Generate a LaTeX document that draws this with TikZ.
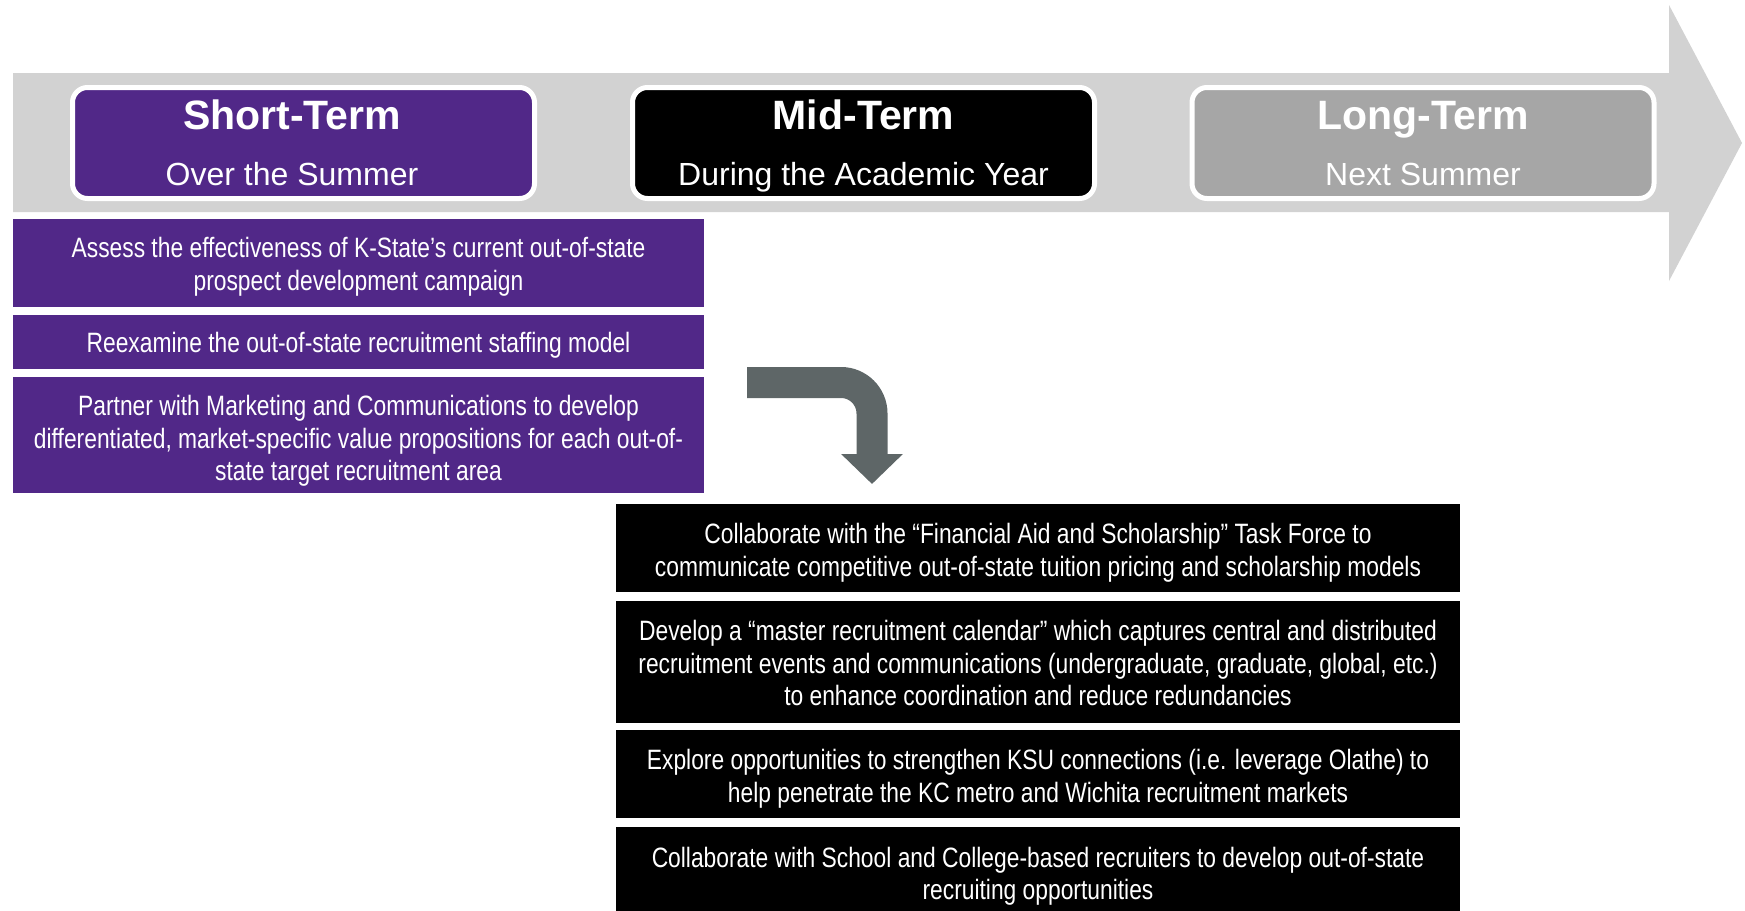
\documentclass[tikz,border=0pt]{standalone}
\usepackage{fontspec}
\setmainfont{Liberation Sans}
\newfontfamily\narrowfont[FakeStretch=0.815]{Liberation Sans}
\usetikzlibrary{arrows.meta}

\definecolor{kspurple}{HTML}{512888}
\definecolor{bandgray}{HTML}{D2D2D2}
\definecolor{longgray}{HTML}{A6A6A6}
\definecolor{bendgray}{HTML}{5E6667}

\tikzset{
    phase/.style={rectangle, draw=white, line width=5pt, rounded corners=15pt, minimum width=462pt, minimum height=111pt},
    phasetitle/.style={anchor=base, text=white, font=\bfseries\fontsize{41}{41}\selectfont},
    phasesub/.style={anchor=base, text=white, font=\fontsize{32}{32}\selectfont},
    shortbox/.style={rectangle, fill=kspurple, minimum width=691pt, inner sep=0pt},
    midbox/.style={rectangle, fill=black, minimum width=844pt, inner sep=0pt},
    actiontext/.style={inner sep=0pt, text=white, align=center, font=\narrowfont\fontsize{28}{32.5}\selectfont}
}

\begin{document}
\begin{tikzpicture}[x=1pt, y=-1pt]
    \useasboundingbox (0, 0) rectangle (1745, 910);

    % timeline band
    \fill[bandgray] (13, 73) -- (1669, 73) -- (1669, 5) -- (1742, 143) -- (1669, 281) -- (1669, 212) -- (13, 212) -- cycle;

    \node (short) [phase, fill=kspurple] at (303.5, 143) {};
    \node (mid) [phase, fill=black] at (863.5, 143) {};
    \node (long) [phase, fill=longgray] at (1423, 143) {};

    \node (shorttitle) [phasetitle] at (292, 129) {Short-Term};
    \node (shortsub) [phasesub] at (292, 185) {Over the Summer};
    \node (midtitle) [phasetitle] at (863.5, 129) {Mid-Term};
    \node (midsub) [phasesub] at (863.5, 185) {During the Academic Year};
    \node (longtitle) [phasetitle] at (1423, 129) {Long-Term};
    \node (longsub) [phasesub] at (1423, 185) {Next Summer};

    % short-term actions
    \node (assess) [shortbox, minimum height=88pt] at (358.5, 263) {};
    \node (staffing) [shortbox, minimum height=54pt] at (358.5, 342) {};
    \node (partner) [shortbox, minimum height=116pt] at (358.5, 435) {};
    \node (assesstext) [actiontext] at (358.5, 267) {Assess the effectiveness of K-State’s current out-of-state\\prospect development campaign};
    \node (staffingtext) [actiontext] at (358.5, 345.5) {Reexamine the out-of-state recruitment staffing model};
    \node (partnertext) [actiontext] at (358.5, 441) {Partner with Marketing and Communications to develop\\differentiated, market-specific value propositions for each out-of-\\state target recruitment area};

    % mid-term actions
    \node (finaid) [midbox, minimum height=88pt] at (1038, 548) {};
    \node (calendar) [midbox, minimum height=122pt] at (1038, 662) {};
    \node (olathe) [midbox, minimum height=88pt] at (1038, 774) {};
    \node (colleges) [midbox, minimum height=88pt] at (1038, 871) {};
    \node (finaidtext) [actiontext] at (1038, 553) {Collaborate with the “Financial Aid and Scholarship” Task Force to\\communicate competitive out-of-state tuition pricing and scholarship models};
    \node (calendartext) [actiontext] at (1038, 663) {Develop a “master recruitment calendar” which captures central and distributed\\recruitment events and communications (undergraduate, graduate, global, etc.)\\to enhance coordination and reduce redundancies};
    \node (olathetext) [actiontext] at (1038, 779) {Explore opportunities to strengthen KSU connections (i.e. leverage Olathe) to\\help penetrate the KC metro and Wichita recruitment markets};
    \node (collegestext) [actiontext] at (1038, 876) {Collaborate with School and College-based recruiters to develop out-of-state\\recruiting opportunities};

    % bent arrow
    \coordinate (bendstart) at (747, 382.5);
    \coordinate (bendend) at (872, 484);
    \draw[bendgray, line width=31pt, rounded corners=31pt, -{Triangle[width=60pt, length=30pt]}] (bendstart) -| (bendend);
\end{tikzpicture}
\end{document}
